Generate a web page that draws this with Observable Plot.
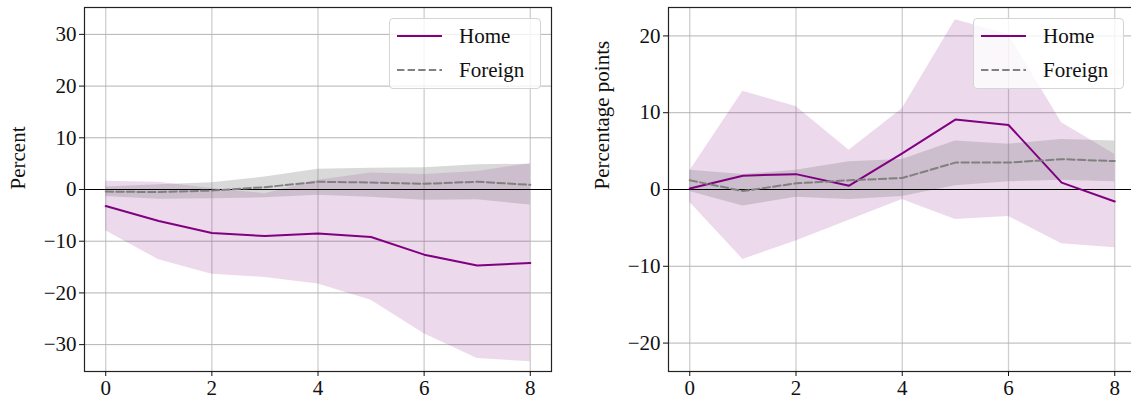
<!DOCTYPE html>
<html>
<head>
<meta charset="utf-8">
<script src="https://cdn.jsdelivr.net/npm/d3@7"></script>
<script src="https://cdn.jsdelivr.net/npm/@observablehq/plot@0.6"></script>
<style>
  html, body { margin: 0; padding: 0; background: #fff; overflow: hidden; }
  #wrap { position: relative; width: 1131px; height: 402px; overflow: hidden; font-family: "Liberation Serif", serif; }
  .panel { position: absolute; top: 0; height: 402px; }
  .panel svg { max-width: none !important; display: block; }
  .legend { position: absolute; top: 18px; height: 71px; box-sizing: border-box; border: 1px solid #d4d4d4; border-radius: 4px; background: rgba(255,255,255,0.8); }
  .legend .row { position: absolute; left: 0; height: 34px; display: flex; align-items: center; font-size: 21px; color: #111; }
  .legend svg { display: block; margin-left: 7px; margin-right: 17px; }
</style>
</head>
<body>
<div id="wrap">
  <div id="left" class="panel" style="left:0px;width:565px"></div>
  <div id="right" class="panel" style="left:570px;width:570px"></div>
</div>
<script>
// horizons (x)
const horizons = [0, 1, 2, 3, 4, 5, 6, 7, 8];
const xTicks = [0, 2, 4, 6, 8];

// Left panel: Percent
const homeL    = [-3.2, -6.1, -8.4, -9.0, -8.5, -9.2, -12.6, -14.7, -14.2];
const homeLlo  = [-8.0, -13.6, -16.4, -17.0, -18.3, -21.4, -27.9, -32.7, -33.3];
const homeLhi  = [1.6, 1.4, 0.2, -0.8, 1.8, 3.2, 2.9, 3.5, 5.0];
const forL     = [-0.4, -0.5, -0.2, 0.45, 1.5, 1.35, 1.1, 1.5, 0.9];
const forLlo   = [-1.35, -1.9, -1.8, -1.6, -1.1, -1.5, -2.1, -2.0, -3.0];
const forLhi   = [0.5, 0.9, 1.3, 2.4, 3.9, 4.1, 4.2, 4.8, 4.9];
const yTicksL  = [-30, -20, -10, 0, 10, 20, 30];

// Right panel: Percentage points
const homeR    = [0.13, 1.8, 2.0, 0.5, 4.7, 9.1, 8.4, 0.9, -1.56];
const homeRlo  = [-1.65, -9.1, -6.7, -4.0, -1.3, -3.9, -3.5, -7.05, -7.6];
const homeRhi  = [2.4, 12.8, 10.8, 5.1, 10.5, 22.1, 20.2, 8.7, 4.6];
const forR     = [1.2, -0.2, 0.8, 1.2, 1.5, 3.5, 3.5, 3.95, 3.7];
const forRlo   = [-0.26, -2.15, -1.0, -1.3, -0.9, 0.5, 1.0, 1.2, 1.0];
const forRhi   = [2.5, 1.95, 2.5, 3.6, 3.9, 6.3, 5.9, 6.5, 6.3];
const yTicksR  = [-20, -10, 0, 10, 20];

const seriesNames = ["Home", "Foreign"];

function panel(o) {
  const data = horizons.map((h, i) => ({
    h, home: o.home[i], hlo: o.hlo[i], hhi: o.hhi[i],
    fr: o.fr[i], flo: o.flo[i], fhi: o.fhi[i]
  }));
  return Plot.plot({
    width: o.width, height: 402,
    marginLeft: o.ml, marginRight: o.mr, marginTop: 7, marginBottom: 31,
    style: { fontFamily: "'Liberation Serif', serif", fontSize: "21px", color: "#111", background: "transparent", overflow: "visible", maxWidth: "none" },
    x: { domain: [-0.4, 8.4] },
    y: { domain: o.ydom },
    marks: [
      Plot.gridX(xTicks, { stroke: "#cfcfcf", strokeOpacity: 1, strokeWidth: 1.3 }),
      Plot.gridY(o.yticks, { stroke: "#b4b4b4", strokeOpacity: 1, strokeWidth: 1 }),
      Plot.areaY(data, { x: "h", y1: "hlo", y2: "hhi", fill: "purple", fillOpacity: 0.15 }),
      Plot.areaY(data, { x: "h", y1: "flo", y2: "fhi", fill: "gray", fillOpacity: 0.3 }),
      Plot.ruleY([0], { stroke: "black", strokeWidth: 1.2 }),
      Plot.line(data, { x: "h", y: "home", stroke: "purple", strokeWidth: 2 }),
      Plot.line(data, { x: "h", y: "fr", stroke: "gray", strokeWidth: 2, strokeDasharray: "7.4,3.2" }),
      Plot.frame({ stroke: "#222", strokeWidth: 1.2 }),
      Plot.axisX(xTicks, { tickSize: 5, tickPadding: 4, label: null, tickFormat: d => String(d) }),
      Plot.axisY(o.yticks, { tickSize: 5, tickPadding: 3, label: null }),
      Plot.text([o.ylabel], { text: d => d, frameAnchor: "left", dx: o.labelDx, rotate: -90, fontSize: 21 })
    ]
  });
}

document.getElementById("left").append(panel({
  width: 565, ml: 84, mr: 14, ydom: [-35.2, 35.2], yticks: yTicksL,
  home: homeL, hlo: homeLlo, hhi: homeLhi, fr: forL, flo: forLlo, fhi: forLhi,
  ylabel: "Percent", labelDx: -66.5
}));
document.getElementById("right").append(panel({
  width: 570, ml: 98, mr: 4.5, ydom: [-23.7, 23.7], yticks: yTicksR,
  home: homeR, hlo: homeRlo, hhi: homeRhi, fr: forR, flo: forRlo, fhi: forRhi,
  ylabel: "Percentage points", labelDx: -66
}));

function legend(left, width) {
  const box = document.createElement("div");
  box.className = "legend";
  box.style.left = left + "px";
  box.style.width = width + "px";
  const styles = [
    { stroke: "purple", dash: null },
    { stroke: "gray", dash: "7.4,3.2" }
  ];
  seriesNames.forEach((name, i) => {
    const row = document.createElement("div");
    row.className = "row";
    row.style.top = (i === 0 ? 0 : 34) + "px";
    const ns = "http://www.w3.org/2000/svg";
    const svg = document.createElementNS(ns, "svg");
    svg.setAttribute("width", 45); svg.setAttribute("height", 6);
    const ln = document.createElementNS(ns, "line");
    ln.setAttribute("x1", 0); ln.setAttribute("x2", 45);
    ln.setAttribute("y1", 3); ln.setAttribute("y2", 3);
    ln.setAttribute("stroke", styles[i].stroke);
    ln.setAttribute("stroke-width", 2);
    if (styles[i].dash) ln.setAttribute("stroke-dasharray", styles[i].dash);
    svg.append(ln);
    const t = document.createElement("span");
    t.textContent = name;
    row.append(svg, t);
    box.append(row);
  });
  document.getElementById("wrap").append(box);
}
legend(389, 152);
legend(973, 151);
</script>
</body>
</html>
